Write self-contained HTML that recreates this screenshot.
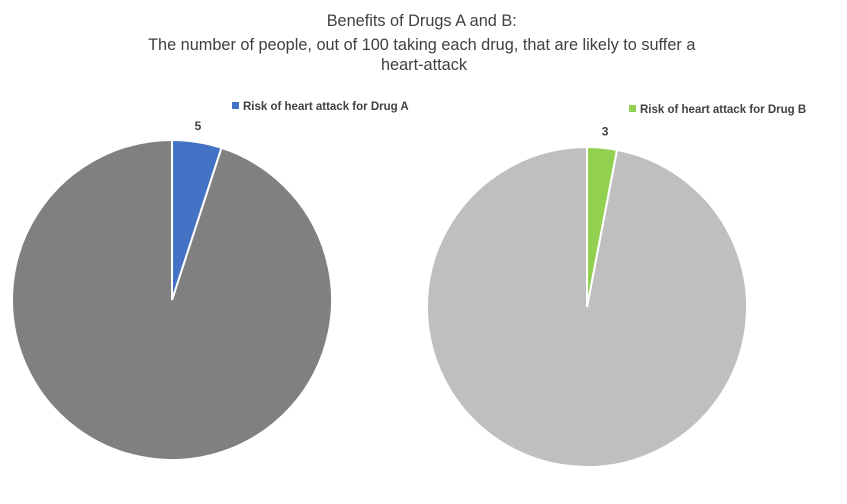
<!DOCTYPE html>
<html><head><meta charset="utf-8"><style>
body{margin:0;background:#fff;width:847px;height:499px;overflow:hidden;font-family:"Liberation Sans",sans-serif}
</style></head><body>
<svg width="847" height="499">
<text text-anchor="middle" font-size="16.3" fill="#404040">
<tspan x="424" y="26">Benefits of Drugs A and B:</tspan>
<tspan x="424" y="50">The number of people, out of 100 taking each drug, that are likely to suffer a</tspan>
<tspan x="424" y="70">heart-attack</tspan></text>
<g id="pies"></g>
</svg>
<script>
const drugs=["Drug A","Drug B"];
const riskValues=[5,3];
const totalValues=[100,100];
const riskColors=["#4472C4","#92D050"];
const restColors=["#808080","#BFBFBF"];
const centers=[[172,300],[587,307]];
const R=160;
const g=document.getElementById('pies');
const NS="http://www.w3.org/2000/svg";
function pt(cx,cy,f){const a=f*2*Math.PI-Math.PI/2;return [cx+R*Math.cos(a),cy+R*Math.sin(a)];}
function arc(cx,cy,f0,f1,fill,name){
 const p=document.createElementNS(NS,'path');
 const [x0,y0]=pt(cx,cy,f0),[x1,y1]=pt(cx,cy,f1);
 p.setAttribute('d',`M${cx},${cy}L${x0},${y0}A${R},${R} 0 ${f1-f0>0.5?1:0} 1 ${x1},${y1}Z`);
 p.setAttribute('fill',fill);p.setAttribute('stroke','#fff');p.setAttribute('stroke-width','2');
 
 
 g.appendChild(p);
}
drugs.forEach((d,i)=>{
 const [cx,cy]=centers[i];const f=riskValues[i]/totalValues[i];
 arc(cx,cy,f,1,restColors[i],'pie-rest-'+(i?'b':'a'));
 arc(cx,cy,0,f,riskColors[i],'pie-risk-'+(i?'b':'a'));
 const [lx,ly]=pt(cx,cy,f/2);
 const t=document.createElementNS(NS,'text');
 t.setAttribute('x',lx+(i?3:1));t.setAttribute('y',ly-12);
 t.setAttribute('text-anchor','middle');t.setAttribute('font-size','12');t.setAttribute('font-weight','bold');t.setAttribute('fill','#404040');
 t.textContent=riskValues[i];
 
 
 g.appendChild(t);
 const lgx=i?630:233,lgy=i?111:108;
 const r=document.createElementNS(NS,'rect');
 r.setAttribute('x',lgx-1);r.setAttribute('y',lgy-6);r.setAttribute('width',7);r.setAttribute('height',7);r.setAttribute('fill',riskColors[i]);
 
 
 g.appendChild(r);
 const lt=document.createElementNS(NS,'text');
 lt.setAttribute('x',lgx+10);lt.setAttribute('y',lgy+2);lt.setAttribute('font-size','11.5');lt.setAttribute('font-weight','bold');lt.setAttribute('fill','#404040');
 lt.textContent='Risk of heart attack for '+d;
 
 
 g.appendChild(lt);
});
</script>
</body></html>
